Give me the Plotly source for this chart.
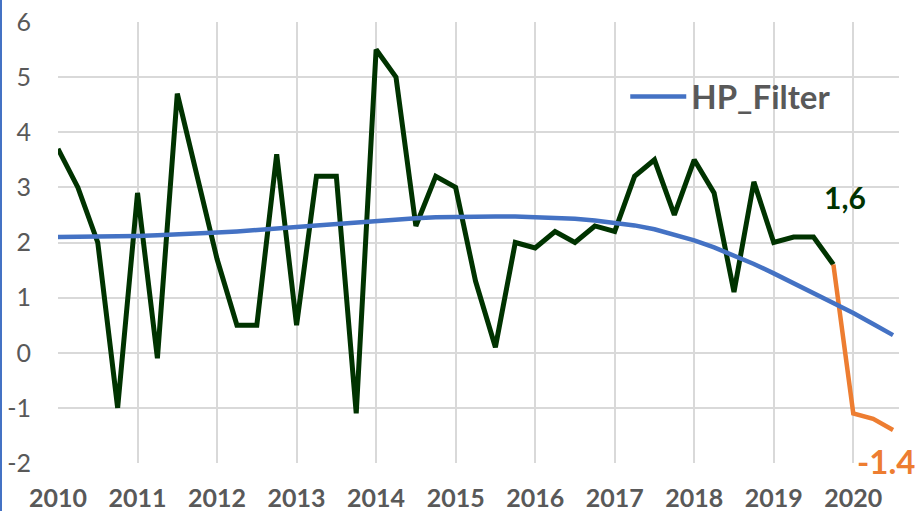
import plotly.graph_objects as go

year_labels = ["2010", "2011", "2012", "2013", "2014", "2015", "2016", "2017", "2018", "2019", "2020"]
y_tick_values = [-2, -1, 0, 1, 2, 3, 4, 5, 6]
y_tick_labels = ["-2", "-1", "0", "1", "2", "3", "4", "5", "6"]
quarter_index = list(range(43))

# Quarterly growth (dark green), 2010Q1 .. 2019Q4
growth = [3.7, 3.0, 2.0, -1.0, 2.9, -0.1, 4.7, 3.2, 1.7, 0.5,
          0.5, 3.6, 0.5, 3.2, 3.2, -1.1, 5.5, 5.0, 2.3, 3.2,
          3.0, 1.3, 0.1, 2.0, 1.9, 2.2, 2.0, 2.3, 2.2, 3.2,
          3.5, 2.5, 3.5, 2.9, 1.1, 3.1, 2.0, 2.1, 2.1, 1.6]

# Forecast segment (orange), 2019Q4 .. 2020Q3
forecast = [1.6, -1.1, -1.2, -1.4]

# HP filter trend (blue), 2010Q1 .. 2020Q3
hp_filter = [2.10, 2.10, 2.10, 2.11, 2.12, 2.13, 2.14, 2.16, 2.18, 2.20,
             2.22, 2.25, 2.28, 2.31, 2.34, 2.37, 2.40, 2.42, 2.44, 2.46,
             2.47, 2.47, 2.47, 2.47, 2.46, 2.45, 2.43, 2.40, 2.36, 2.31,
             2.24, 2.15, 2.04, 1.91, 1.77, 1.61, 1.44, 1.26, 1.08, 0.91,
             0.72, 0.52, 0.32]

FONT = "Lato, 'Open Sans', sans-serif"
GREEN = "#003300"
ORANGE = "#ED7D31"
BLUE = "#4472C4"

fig = go.Figure()
fig.add_trace(go.Scatter(x=quarter_index[:len(growth)], y=growth, mode="lines",
                         line=dict(color=GREEN, width=5), showlegend=False,
                         name="Growth"))
fig.add_trace(go.Scatter(x=quarter_index[39:39 + len(forecast)], y=forecast, mode="lines",
                         line=dict(color=ORANGE, width=4.5), showlegend=False,
                         name="Forecast"))
fig.add_trace(go.Scatter(x=quarter_index, y=hp_filter, mode="lines",
                         line=dict(color=BLUE, width=4.5), name="HP_Filter"))

fig.add_annotation(x=39.6, y=2.82, xref="x", yref="y", text="<b>1,6</b>",
                   showarrow=False, font=dict(family=FONT, size=30, color=GREEN))
fig.add_annotation(x=41.66, y=-1.97, xref="x", yref="y", text="<b>-1.4</b>",
                   showarrow=False, font=dict(family=FONT, size=33, color=ORANGE))

# thin blue border line at the very left of the picture
fig.add_shape(type="line", xref="paper", yref="paper",
              x0=-57 / 841, x1=-57 / 841, y0=-1, y1=2,
              line=dict(color=BLUE, width=2))

fig.update_layout(
    width=915, height=511,
    margin=dict(l=58, r=16, t=22, b=48),
    paper_bgcolor="white", plot_bgcolor="white",
    font=dict(family=FONT),
    legend=dict(x=0.6745, y=0.831, xanchor="left", yanchor="middle",
                bgcolor="rgba(0,0,0,0)", itemwidth=56,
                font=dict(family=FONT, size=33, color="#595959", weight="bold")),
    xaxis=dict(range=[0, 42.3], tickmode="array",
               tickvals=quarter_index[::4], ticktext=year_labels,
               showgrid=True, gridcolor="#D9D9D9", gridwidth=1.5,
               zeroline=False, showline=False, ticks="", automargin=False,
               ticklabelstandoff=18,
               tickfont=dict(family=FONT, size=25, color="#595959", weight="bold")),
    yaxis=dict(range=[-2, 6], tickmode="array",
               tickvals=y_tick_values, ticktext=y_tick_labels,
               showgrid=True, gridcolor="#D9D9D9", gridwidth=1.5,
               zeroline=False, showline=False, ticks="", automargin=False,
               ticklabelstandoff=26,
               tickfont=dict(family=FONT, size=25, color="#595959")),
)

fig.write_html("out.html", config={"displayModeBar": False},
               post_script="document.body.style.margin='0';document.body.style.overflow='hidden';")
